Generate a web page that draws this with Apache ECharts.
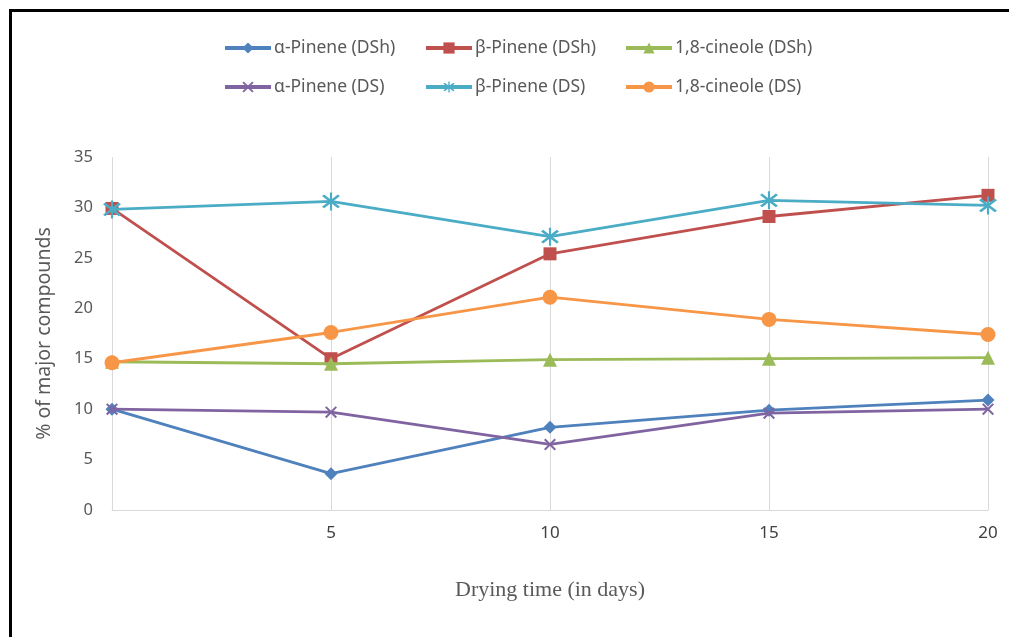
<!DOCTYPE html>
<html>
<head>
<meta charset="utf-8">
<script src="https://cdn.jsdelivr.net/npm/echarts@6/dist/echarts.min.js"></script>
<style>
html,body{margin:0;padding:0;background:#fff;}
#main{width:1009px;height:637px;}
</style>
</head>
<body>
<div id="main"></div>
<script>
const days = [0, 5, 10, 15, 20];
const seriesNames = ['α-Pinene (DSh)', 'β-Pinene (DSh)', '1,8-cineole (DSh)', 'α-Pinene (DS)', 'β-Pinene (DS)', '1,8-cineole (DS)'];
const alphaPineneDSh = [10.0, 3.6, 8.2, 9.9, 10.9];
const betaPineneDSh = [29.9, 15.0, 25.4, 29.1, 31.2];
const cineoleDSh = [14.7, 14.5, 14.9, 15.0, 15.1];
const alphaPineneDS = [10.0, 9.7, 6.5, 9.6, 10.0];
const betaPineneDS = [29.8, 30.6, 27.1, 30.7, 30.2];
const cineoleDS = [14.6, 17.6, 21.1, 18.9, 17.4];
const yTicks = [0, 5, 10, 15, 20, 25, 30, 35];

const colors = ['#4F81BD', '#C0504D', '#9BBB59', '#8064A2', '#4BACC6', '#F79646'];
const crossPath = 'path://M0,1.2L1.2,0L10,8.8L8.8,10Z M8.8,0L10,1.2L1.2,10L0,8.8Z';
const starPath = 'path://M0,1.2L1.2,0L10,8.8L8.8,10Z M8.8,0L10,1.2L1.2,10L0,8.8Z M4.4,-1.5L5.6,-1.5L5.6,11.5L4.4,11.5Z';
const symbols = ['diamond', 'rect', 'triangle', crossPath, starPath, 'circle'];
const symbolSizes = [13, 13, 14, 12, 18, 15];
const allData = [alphaPineneDSh, betaPineneDSh, cineoleDSh, alphaPineneDS, betaPineneDS, cineoleDS];

const chart = echarts.init(document.getElementById('main'), null, {renderer: 'canvas'});

const series = seriesNames.map((name, i) => ({
  name: name,
  type: 'line',
  data: days.map((d, j) => [d, allData[i][j]]),
  symbol: symbols[i],
  symbolSize: symbolSizes[i],
  showAllSymbol: true,
  lineStyle: {color: colors[i], width: 2.8},
  itemStyle: {color: colors[i]},
  emphasis: {disabled: true},
  z: 2 + i
}));

const legendLefts = [223, 424, 624];
const legendTops = [39, 78];
const legends = seriesNames.map((name, i) => ({
  data: [name],
  left: legendLefts[i % 3],
  top: legendTops[Math.floor(i / 3)],
  padding: 0,
  itemWidth: 46,
  itemHeight: 14,
  selectedMode: false,
  lineStyle: {width: 4},
  textStyle: {fontFamily: 'Noto Sans', fontSize: 17.5, color: '#595959', padding: [0, 0, 0, -2]}
}));

chart.setOption({
  animation: false,
  backgroundColor: '#fff',
  color: colors,
  grid: {left: 112, right: 21, top: 157, bottom: 127, containLabel: false},
  legend: legends,
  xAxis: {
    type: 'value',
    min: 0, max: 20, interval: 5,
    name: 'Drying time (in days)',
    nameLocation: 'middle',
    nameGap: 69,
    nameTextStyle: {fontFamily: 'Liberation Serif', fontSize: 22, color: '#595959'},
    axisLine: {show: true, lineStyle: {color: '#D9D9D9', width: 1}},
    axisTick: {show: false},
    splitLine: {show: true, lineStyle: {color: '#D9D9D9', width: 1}},
    axisLabel: {
      fontFamily: 'Noto Sans', fontSize: 17, color: '#404040', margin: 15,
      formatter: v => (v === 0 ? '' : String(v))
    }
  },
  yAxis: {
    type: 'value',
    min: yTicks[0], max: yTicks[yTicks.length - 1], interval: 5,
    name: '% of major compounds',
    nameLocation: 'middle',
    nameGap: 58,
    nameTextStyle: {fontFamily: 'Noto Sans', fontSize: 19.5, color: '#595959'},
    axisLine: {show: false},
    axisTick: {show: false},
    splitLine: {show: false},
    axisLabel: {fontFamily: 'Noto Sans', fontSize: 16.5, color: '#595959', margin: 19}
  },
  graphic: [{
    type: 'rect',
    shape: {x: 10.5, y: 10.5, width: 1200, height: 900},
    style: {fill: 'none', stroke: '#000', lineWidth: 3},
    silent: true
  }],
  series: series
});
</script>
</body>
</html>
